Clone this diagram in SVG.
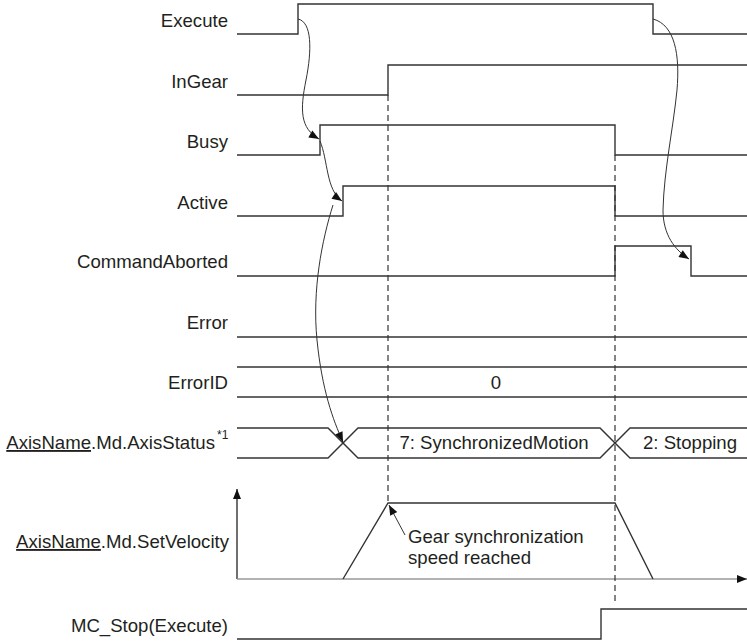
<svg xmlns="http://www.w3.org/2000/svg" width="747" height="643" viewBox="0 0 747 643">
<defs>
<style>
.lbl{font-family:"Liberation Sans",Arial,sans-serif;font-size:18.6px;fill:#231f20;}
.end{text-anchor:end;}
.mid{text-anchor:middle;}
.sig{fill:none;stroke:#333;stroke-width:1.4;}
.dash{fill:none;stroke:#333;stroke-width:1.2;stroke-dasharray:6 4;}
.conn{fill:none;stroke:#333;stroke-width:1;}
.ul{text-decoration:underline;}
</style>
<marker id="ah" viewBox="0 0 10 10" refX="10" refY="5" markerWidth="11" markerHeight="10" markerUnits="userSpaceOnUse" orient="auto">
<path d="M0,1 L10,5 L0,9 Z" fill="#111"/>
</marker>
<marker id="ah2" viewBox="0 0 10 10" refX="10" refY="5" markerWidth="12" markerHeight="10" markerUnits="userSpaceOnUse" orient="auto">
<path d="M0,1 L10,5 L0,9 Z" fill="#111"/>
</marker>
</defs>
<rect width="747" height="643" fill="#fff"/>

<g id="execute">
<text class="lbl end" x="228" y="27">Execute</text>
<polyline class="sig" points="237,34 298,34 298,4 653,4 653,34 747,34"/>
</g>
<g id="ingear">
<text class="lbl end" x="228" y="88">InGear</text>
<polyline class="sig" points="237,95 388,95 388,65 747,65"/>
</g>
<g id="busy">
<text class="lbl end" x="228" y="148">Busy</text>
<polyline class="sig" points="237,155 320,155 320,125 615,125 615,155 747,155"/>
</g>
<g id="active">
<text class="lbl end" x="228" y="209">Active</text>
<polyline class="sig" points="237,216 343,216 343,186 615,186 615,216 747,216"/>
</g>
<g id="commandaborted">
<text class="lbl end" x="228" y="268">CommandAborted</text>
<polyline class="sig" points="237,276 615,276 615,246 691,246 691,276 747,276"/>
</g>
<g id="error">
<text class="lbl end" x="228" y="329">Error</text>
<line class="sig" x1="237" y1="337" x2="747" y2="337"/>
</g>
<g id="errorid">
<text class="lbl end" x="228" y="389">ErrorID</text>
<line class="sig" x1="237" y1="367" x2="747" y2="367"/>
<line class="sig" x1="237" y1="397" x2="747" y2="397"/>
<text class="lbl mid" x="496" y="389">0</text>
</g>
<g id="axisstatus">
<text class="lbl end" x="215" y="449"><tspan class="ul">AxisName</tspan>.Md.AxisStatus</text>
<text class="lbl" x="217" y="439" style="font-size:12px">*1</text>
<polyline class="sig" points="237,428 328,428 358,458 600,458 630,428 747,428"/>
<polyline class="sig" points="237,458 328,458 358,428 600,428 630,458 747,458"/>
<text class="lbl mid" x="494" y="449">7: SynchronizedMotion</text>
<text class="lbl mid" x="690" y="449">2: Stopping</text>
</g>
<g id="setvelocity">
<text class="lbl end" x="229" y="548"><tspan class="ul">AxisName</tspan>.Md.SetVelocity</text>
<line x1="237" y1="579" x2="237" y2="489" stroke="#333" stroke-width="1.4" marker-end="url(#ah2)"/>
<line x1="237" y1="579" x2="747" y2="579" stroke="#999" stroke-width="1.6" marker-end="url(#ah2)"/>
<polyline class="sig" points="343,579 388,503 615,503 653,579"/>
<text class="lbl" x="408" y="543">Gear synchronization</text>
<text class="lbl" x="408" y="564">speed reached</text>
</g>
<g id="mcstop">
<text class="lbl end" x="228" y="632">MC_Stop(Execute)</text>
<polyline class="sig" points="237,639 601,639 601,609 747,609"/>
</g>

<g id="connectors">
<line class="dash" x1="388" y1="95" x2="388" y2="503"/>
<line class="dash" x1="615" y1="155" x2="615" y2="605"/>
<path class="conn" d="M298,19 C312,22 312,50 306,80 C300,110 300,128 319,139" marker-end="url(#ah)"/>
<path class="conn" d="M320,141 C328,160 326,190 342,201" marker-end="url(#ah)"/>
<path class="conn" d="M333,205 C322,240 312,290 317,340 C322,390 333,420 343,442" marker-end="url(#ah)"/>
<path class="conn" d="M653,19 C675,25 680,55 677,90 C673,130 664,170 663,210 C663,235 675,250 689,259" marker-end="url(#ah)"/>
<line class="conn" x1="405" y1="535" x2="389" y2="505" marker-end="url(#ah)"/>
</g>
</svg>
